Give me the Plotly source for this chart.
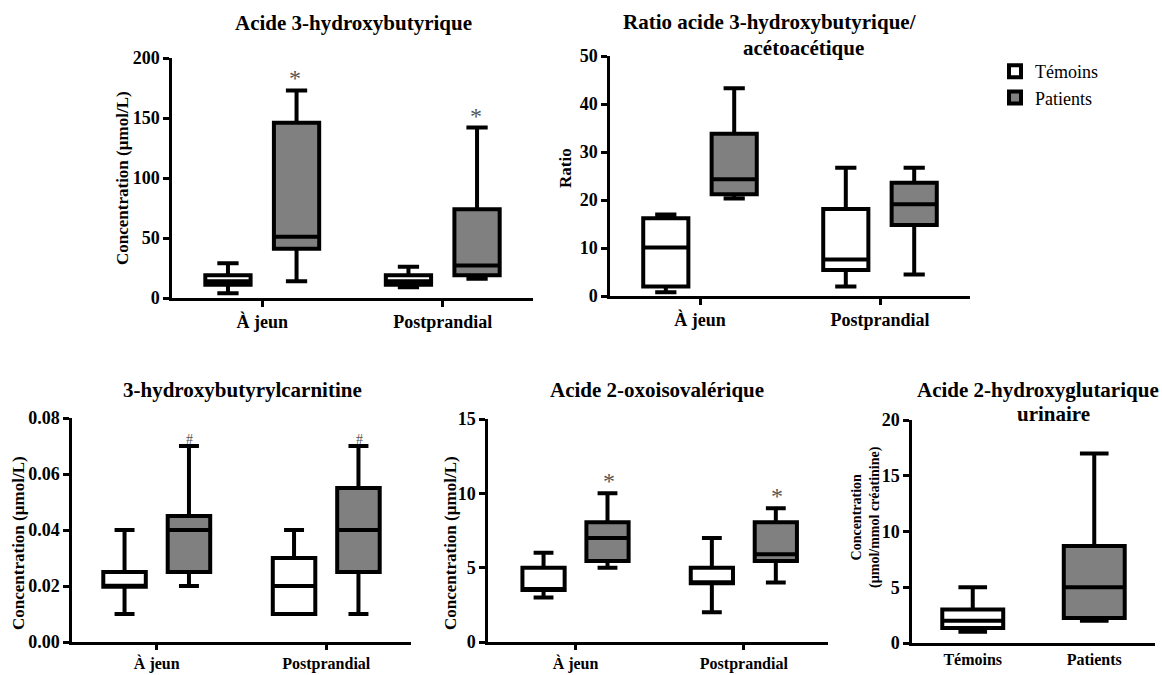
import plotly.graph_objects as go

W, H = 1162, 675
FONT = "Liberation Serif"
GREY = "#808080"

# ---------------- data ----------------
periods = ["À jeun", "Postprandial"]
groups5 = ["Témoins", "Patients"]
series_names = ["Témoins", "Patients"]

# Panel 1: Acide 3-hydroxybutyrique (µmol/L)
p1_tem_low = [4, 9];    p1_tem_q1 = [11, 11];  p1_tem_med = [14, 14];  p1_tem_q3 = [19, 19];   p1_tem_up = [29, 26]
p1_pat_low = [14, 16];  p1_pat_q1 = [41, 19];  p1_pat_med = [51, 27];  p1_pat_q3 = [146, 74];  p1_pat_up = [173, 142]
p1_marks = ["*", "*"]

# Panel 2: Ratio acide 3-hydroxybutyrique / acétoacétique
p2_tem_low = [0.8, 2.0];   p2_tem_q1 = [2.0, 5.4];   p2_tem_med = [10.1, 7.6];  p2_tem_q3 = [16.2, 18.1];  p2_tem_up = [17.0, 26.7]
p2_pat_low = [20.3, 4.5];  p2_pat_q1 = [21.2, 14.8]; p2_pat_med = [24.3, 19.1]; p2_pat_q3 = [33.8, 23.6];  p2_pat_up = [43.3, 26.7]

# Panel 3: 3-hydroxybutyrylcarnitine (µmol/L)
p3_tem_low = [0.010, 0.010]; p3_tem_q1 = [0.0197, 0.010]; p3_tem_med = [0.020, 0.020]; p3_tem_q3 = [0.025, 0.030]; p3_tem_up = [0.040, 0.040]
p3_pat_low = [0.020, 0.010]; p3_pat_q1 = [0.025, 0.025];  p3_pat_med = [0.040, 0.040]; p3_pat_q3 = [0.045, 0.055]; p3_pat_up = [0.070, 0.070]
p3_marks = ["#", "#"]

# Panel 4: Acide 2-oxoisovalérique (µmol/L)
p4_tem_low = [3.0, 2.0]; p4_tem_q1 = [3.5, 3.95]; p4_tem_med = [3.5, 4.0]; p4_tem_q3 = [5.0, 5.0];   p4_tem_up = [6.0, 7.0]
p4_pat_low = [5.0, 4.0]; p4_pat_q1 = [5.45, 5.45]; p4_pat_med = [7.0, 5.9]; p4_pat_q3 = [8.05, 8.05]; p4_pat_up = [10.0, 9.0]
p4_marks = ["*", "*"]

# Panel 5: Acide 2-hydroxyglutarique urinaire (µmol/mmol créatinine)
p5_low = [1.0, 2.0]; p5_q1 = [1.35, 2.25]; p5_med = [2.0, 5.0]; p5_q3 = [3.0, 8.7]; p5_up = [5.0, 17.0]

# ---------------- figure ----------------
fig = go.Figure()
fills = ["white", GREY]


def add_box(name, x, low, q1, med, q3, up, fill, xa, ya, ag, og, show):
    fig.add_trace(go.Box(
        name=name, x=x, lowerfence=low, q1=q1, median=med, q3=q3, upperfence=up,
        fillcolor=fill, line=dict(color="black", width=4), whiskerwidth=0.47,
        boxpoints=False, xaxis=xa, yaxis=ya, alignmentgroup=ag, offsetgroup=og,
        showlegend=show, legendgroup=name, hoverinfo="skip"))


panels = [
    ("x", "y", "p1", (p1_tem_low, p1_tem_q1, p1_tem_med, p1_tem_q3, p1_tem_up),
     (p1_pat_low, p1_pat_q1, p1_pat_med, p1_pat_q3, p1_pat_up), True),
    ("x2", "y2", "p2", (p2_tem_low, p2_tem_q1, p2_tem_med, p2_tem_q3, p2_tem_up),
     (p2_pat_low, p2_pat_q1, p2_pat_med, p2_pat_q3, p2_pat_up), False),
    ("x3", "y3", "p3", (p3_tem_low, p3_tem_q1, p3_tem_med, p3_tem_q3, p3_tem_up),
     (p3_pat_low, p3_pat_q1, p3_pat_med, p3_pat_q3, p3_pat_up), False),
    ("x4", "y4", "p4", (p4_tem_low, p4_tem_q1, p4_tem_med, p4_tem_q3, p4_tem_up),
     (p4_pat_low, p4_pat_q1, p4_pat_med, p4_pat_q3, p4_pat_up), False),
]
for xa, ya, ag, tem, pat, show in panels:
    add_box(series_names[0], periods, *tem, fills[0], xa, ya, ag, ag + "t", show)
    add_box(series_names[1], periods, *pat, fills[1], xa, ya, ag, ag + "p", show)

for i, nm in enumerate(groups5):
    add_box(nm, [nm], [p5_low[i]], [p5_q1[i]], [p5_med[i]], [p5_q3[i]], [p5_up[i]],
            fills[i], "x5", "y5", "p5", "p5", False)


def px_x(p):
    return p / W


def px_y(p):
    return 1 - p / H


axis_common = dict(showline=True, linecolor="black", linewidth=2.5, ticks="outside",
                   tickcolor="black", tickwidth=2.5, ticklen=6, showgrid=False,
                   zeroline=False, fixedrange=True, automargin=False)

layout_axes = {}
specs = [
    # x name, y name, x px (left,right), y px (bottom,top), x range, y range, dtick, fmt, x ticks, x label size, x ticklen
    ("xaxis", "yaxis", (172, 533), (298, 58), [-0.5, 1.5], [0, 200], 50, None, True, 18, 6),
    ("xaxis2", "yaxis2", (610, 970), (296, 56), [-0.5, 1.5], [0, 50], 10, None, True, 18, 6),
    ("xaxis3", "yaxis3", (72, 411), (642, 418), [-0.5, 1.5], [0, 0.08], 0.02, ".2f", True, 16, 5),
    ("xaxis4", "yaxis4", (488, 828), (642, 419), [-0.52, 1.5], [0, 15], 5, None, True, 16, 5),
    ("xaxis5", "yaxis5", (912, 1155), (643, 420), [-0.5, 1.5], [0, 20], 5, None, False, 16, 5),
]
for i, (xn, yn, xp, yp, xr, yr, dt, tf, xt, xs, tl) in enumerate(specs):
    idx = "" if i == 0 else str(i + 1)
    xd = dict(axis_common)
    xd.update(domain=[px_x(xp[0]), px_x(xp[1])], range=xr, type="category",
              anchor="y" + idx, ticks="outside" if xt else "", ticklen=tl,
              tickfont=dict(family=FONT, size=xs, color="black", weight="bold"))
    yd = dict(axis_common)
    yd.update(domain=[px_y(yp[0]), px_y(yp[1])], range=yr, dtick=dt, tick0=0,
              anchor="x" + idx,
              tickfont=dict(family=FONT, size=18, color="black", weight="bold"))
    if tf:
        yd["tickformat"] = tf
    layout_axes[xn] = xd
    layout_axes[yn] = yd

annotations = []


def text_ann(txt, xp, yp, size, angle=0, bold=True):
    annotations.append(dict(
        text=txt, x=px_x(xp), y=px_y(yp), xref="paper", yref="paper",
        xanchor="center", yanchor="middle", showarrow=False, textangle=angle,
        font=dict(family=FONT, size=size, color="black", weight="bold" if bold else "normal")))


# panel titles
text_ann("Acide 3-hydroxybutyrique", 353, 23, 21)
text_ann("Ratio acide 3-hydroxybutyrique/", 770, 22, 21)
text_ann("acétoacétique", 803, 48, 21)
text_ann("3-hydroxybutyrylcarnitine", 242, 390, 21)
text_ann("Acide 2-oxoisovalérique", 657, 390, 21)
text_ann("Acide 2-hydroxyglutarique", 1038, 390, 21)
text_ann("urinaire", 1053, 414, 21)

# y-axis titles
text_ann("Concentration (µmol/L)", 122, 178, 17, -90)
text_ann("Ratio", 565, 168, 17, -90)
text_ann("Concentration (µmol/L)", 18, 543, 17, -90)
text_ann("Concentration (µmol/L)", 450, 543, 17, -90)
text_ann("Concentration<br>(µmol/mmol créatinine)", 866, 517, 14, -90)

# significance marks above patient boxes
for marks, ups, xa, ya, size in [(p1_marks, p1_pat_up, "x", "y", 24),
                                  (p3_marks, p3_pat_up, "x3", "y3", 14),
                                  (p4_marks, p4_pat_up, "x4", "y4", 24)]:
    for cat, m, u in zip(periods, marks, ups):
        annotations.append(dict(
            text=m, x=cat, y=u, xref=xa, yref=ya, xanchor="center", yanchor="bottom",
            xshift=33, yshift=-3, showarrow=False,
            font=dict(family=FONT, size=size, color="#555555")))

fig.update_layout(
    template="none",
    width=W, height=H, margin=dict(l=0, r=0, t=0, b=0, autoexpand=False),
    paper_bgcolor="white", plot_bgcolor="white",
    font=dict(family=FONT, color="black"),
    boxmode="group", boxgap=0.24, boxgroupgap=0.34,
    showlegend=True,
    legend=dict(x=px_x(995), y=px_y(53), xanchor="left", yanchor="top",
                font=dict(family=FONT, size=18, color="black"),
                bgcolor="rgba(0,0,0,0)", borderwidth=0, tracegroupgap=0, itemwidth=30),
    annotations=annotations,
    **layout_axes,
)

fig.write_html("out.html")
